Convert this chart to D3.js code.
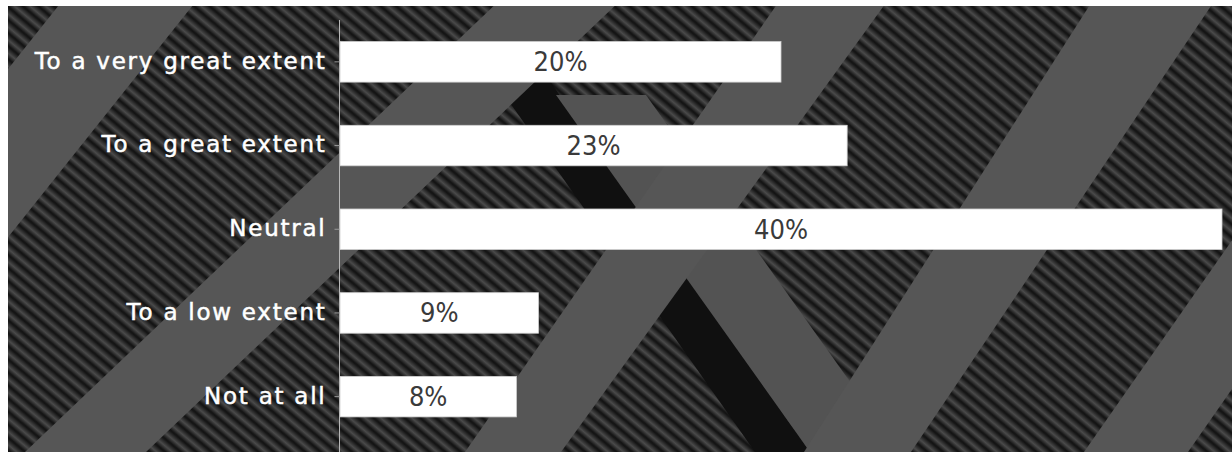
<!DOCTYPE html>
<html>
<head>
<meta charset="utf-8">
<script src="https://cdn.jsdelivr.net/npm/d3@7/dist/d3.min.js"></script>
<style>
  html, body { margin: 0; padding: 0; background: #ffffff; }
  svg { display: block; }
</style>
</head>
<body>
<svg id="chart" width="1232" height="452"></svg>
<script>
// ---- data ----
const categories = ["To a very great extent", "To a great extent", "Neutral", "To a low extent", "Not at all"];
const values = [20, 23, 40, 9, 8];
const valueLabels = ["20%", "23%", "40%", "9%", "8%"];
const xDomain = [0, 40];

// ---- decorative background (photo-like diagonal stripes) ----
const flatBands = [
  [[63, 0], [197, 0], [-163, 452], [-297, 452]],
  [[500, 0], [621, 0], [146, 452], [25, 452]],
  [[780, 0], [888, 0], [561, 452], [465, 452]],
  [[1093, 0], [1215, 0], [911, 452], [804, 452]],
  [[1400, 0], [1504, 0], [1188, 452], [1084, 452]]
];
const darkBands = [
  [[480, 60], [535, 60], [810, 452], [755, 452]]
];
const crossBands = [
  [[556, 95], [646, 95], [900, 452], [810, 452]]
];

const W = 1232, H = 452;
const svg = d3.select("#chart");
const defs = svg.append("defs");

const grad = defs.append("linearGradient").attr("id", "ridge")
  .attr("x1", "0").attr("x2", "1").attr("y1", "0").attr("y2", "0");
grad.append("stop").attr("offset", "0%").attr("stop-color", "#0f0f0f");
grad.append("stop").attr("offset", "45%").attr("stop-color", "#4a4a4a");
grad.append("stop").attr("offset", "60%").attr("stop-color", "#3a3a3a");
grad.append("stop").attr("offset", "100%").attr("stop-color", "#0f0f0f");

const pat = defs.append("pattern").attr("id", "stripes")
  .attr("patternUnits", "userSpaceOnUse")
  .attr("width", 10).attr("height", 10)
  .attr("patternTransform", "rotate(-50)");
pat.append("rect").attr("width", 10).attr("height", 10).attr("fill", "url(#ridge)");

const clip = defs.append("clipPath").attr("id", "bgclip");
clip.append("rect").attr("x", 8).attr("y", 6).attr("width", W - 8).attr("height", H - 6);

const bg = svg.append("g").attr("clip-path", "url(#bgclip)");
bg.append("rect").attr("x", 8).attr("y", 6).attr("width", W - 8).attr("height", H - 6)
  .attr("fill", "url(#stripes)");
const line = d3.line();
bg.selectAll("path.dark").data(darkBands).join("path").attr("class", "dark")
  .attr("d", d => line(d) + "Z").attr("fill", "#101010");
bg.selectAll("path.cross").data(crossBands).join("path").attr("class", "cross")
  .attr("d", d => line(d) + "Z").attr("fill", "#535353");
bg.selectAll("path.flat").data(flatBands).join("path").attr("class", "flat")
  .attr("d", d => line(d) + "Z").attr("fill", "#565656");

// ---- chart ----
const x = d3.scaleLinear().domain(xDomain).range([340, 1222]);
const y = d3.scaleBand().domain(categories).range([20, 438.5])
  .paddingInner(0.516).paddingOuter(0.258);

const data = categories.map((c, i) => ({ c, v: values[i], l: valueLabels[i] }));

const g = svg.append("g");

g.selectAll("rect.bar").data(data).join("rect").attr("class", "bar")
  .attr("x", x(0))
  .attr("y", d => y(d.c))
  .attr("width", d => x(d.v) - x(0))
  .attr("height", y.bandwidth())
  .attr("fill", "#ffffff")
  .attr("stroke", "#d0d0d0")
  .attr("stroke-width", 0.8);

g.selectAll("text.val").data(data).join("text").attr("class", "val")
  .attr("x", d => (x(0) + x(d.v)) / 2)
  .attr("y", d => y(d.c) + y.bandwidth() / 2 + 9.5)
  .attr("text-anchor", "middle")
  .attr("font-family", "'Liberation Sans Narrow', 'Arial Narrow', 'DejaVu Sans Condensed', 'Liberation Sans', sans-serif")
  .attr("font-size", 27)
  .attr("fill", "#3a3a3a")
  .text(d => d.l);

const axis = d3.axisLeft(y).tickSize(5).tickSizeOuter(0).tickPadding(8);
const ax = svg.append("g").attr("transform", "translate(339.5,0)").call(axis);
ax.select(".domain").attr("stroke", "#b8b8b8").attr("stroke-width", 1)
  .attr("d", `M0,20V452`);
ax.selectAll(".tick line").attr("stroke", "#9a9a9a");
ax.selectAll(".tick text")
  .attr("fill", "#ffffff")
  .attr("stroke", "#ffffff")
  .attr("stroke-width", 0.5)
  .attr("font-family", "'DejaVu Sans', sans-serif")
  .attr("font-size", 23)
  .attr("letter-spacing", "1.75px")
  .attr("dy", "0.3em");
</script>
</body>
</html>
